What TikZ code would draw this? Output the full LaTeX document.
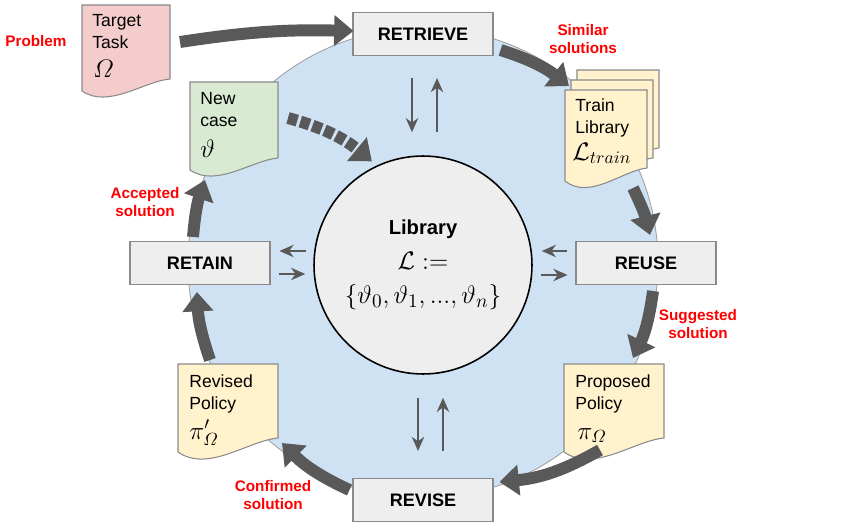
\documentclass[tikz,border=0pt]{standalone}
\usepackage{amsmath,amssymb}
\usepackage{fontspec}
\setmainfont{Liberation Sans}
\usetikzlibrary{arrows.meta,calc}

\definecolor{cyclefill}{HTML}{CFE2F3}
\definecolor{libfill}{HTML}{EEEEEE}
\definecolor{boxfill}{HTML}{EEEEEE}
\definecolor{boxline}{HTML}{8A8A8A}
\definecolor{arrowgray}{HTML}{595959}
\definecolor{taskpink}{HTML}{F4CCCC}
\definecolor{casegreen}{HTML}{D9EAD3}
\definecolor{policyyellow}{HTML}{FFF2CC}
\definecolor{labelred}{HTML}{FF0000}

% page with a wavy bottom, drawn over an empty node
\newcommand{\docpage}[3]{%
  \draw[docline, fill=#2] (#1.north west) -- (#1.north east) -- (#1.south east)
    .. controls ($(#1.south west)!0.7!(#1.south east)+(0,-0.2*#3)$)
    and ($(#1.south west)!0.3!(#1.south east)+(0,-2.5*#3)$)
    .. ($(#1.south west)+(0,-#3)$) -- cycle;}

\begin{document}
\begin{tikzpicture}[x=0.02cm, y=0.02cm,
    stepbox/.style={draw=boxline, fill=boxfill, line width=0.6pt,
      minimum width=2.8cm, minimum height=0.86cm,
      font=\fontsize{10.3}{12}\selectfont\bfseries},
    docbox/.style={anchor=north west, inner sep=0pt, outer sep=0pt},
    docline/.style={draw=boxline, line width=0.6pt},
    doctext/.style={anchor=north west, inner sep=0pt, align=left,
      font=\fontsize{10}{12.5}\selectfont},
    docmath/.style={anchor=base west, inner sep=0pt,
      font=\fontsize{14}{14}\selectfont},
    redlabel/.style={text=labelred, align=center,
      font=\fontsize{8.7}{10.2}\selectfont\bfseries},
    cyclearrow/.style={draw=arrowgray, line width=6.8pt,
      -{Triangle[length=11pt,width=17pt]}},
    linkarrow/.style={draw=arrowgray, line width=1.5pt,
      -{Stealth[length=8pt,width=7pt,inset=2.5pt]}}]
  \useasboundingbox (0,0) rectangle (859,525);

  % cycle
  \coordinate (hub) at (423,262);
  \draw[draw=boxline!80, line width=0.5pt, fill=cyclefill] (hub) circle (235);

  % pages
  \node[docbox, minimum width=88*0.02cm, minimum height=74*0.02cm] (task) at (82,520) {};
  \docpage{task}{taskpink}{12}
  \node[docbox, minimum width=88*0.02cm, minimum height=76*0.02cm] (newcase) at (190,443) {};
  \docpage{newcase}{casegreen}{12}
  \node[docbox, minimum width=82*0.02cm, minimum height=78*0.02cm] (trainback) at (577,455) {};
  \docpage{trainback}{policyyellow}{13}
  \node[docbox, minimum width=82*0.02cm, minimum height=78*0.02cm] (trainmid) at (571,445) {};
  \docpage{trainmid}{policyyellow}{13}
  \node[docbox, minimum width=82*0.02cm, minimum height=78*0.02cm] (trainlib) at (565,435) {};
  \docpage{trainlib}{policyyellow}{13}
  \node[docbox, minimum width=100*0.02cm, minimum height=74*0.02cm] (proposed) at (564,161) {};
  \docpage{proposed}{policyyellow}{14}
  \node[docbox, minimum width=100*0.02cm, minimum height=74*0.02cm] (revised) at (178,161) {};
  \docpage{revised}{policyyellow}{14}

  \node[doctext] (tasktext) at ($(task.north west)+(10,-9)$) {Target\\Task};
  \node[docmath] (taskmath) at ($(task.north west)+(11,-73)$) {$\varOmega$};
  \node[doctext] (casetext) at ($(newcase.north west)+(10,-10)$) {New\\case};
  \node[docmath] (casemath) at ($(newcase.north west)+(10,-75)$) {$\vartheta$};
  \node[doctext] (traintext) at ($(trainlib.north west)+(10,-8)$) {Train\\Library};
  \node[docmath] (trainmath) at ($(trainlib.north west)+(7,-70)$) {$\mathcal{L}_{train}$};
  \node[doctext] (proptext) at ($(proposed.north west)+(11,-10)$) {Proposed\\Policy};
  \node[docmath] (propmath) at ($(proposed.north west)+(13,-75)$) {$\pi_{\varOmega}$};
  \node[doctext] (revtext) at ($(revised.north west)+(11,-10)$) {Revised\\Policy};
  \node[docmath] (revmath) at ($(revised.north west)+(11,-75)$) {$\pi'_{\varOmega}$};

  % steps
  \node[stepbox] (retrieve) at (423,491) {RETRIEVE};
  \node[stepbox] (reuse) at (646,262) {REUSE};
  \node[stepbox] (revise) at (423,25) {REVISE};
  \node[stepbox] (retain) at (200,262) {RETAIN};

  % library
  \node[circle, draw=black, line width=0.9pt, fill=libfill, minimum size=4.36cm,
    inner sep=0pt, align=center, font=\fontsize{14}{19.8}\selectfont]
    (library) at (423,260)
    {{\fontsize{11.5}{12}\selectfont\bfseries Library}\\ $\mathcal{L}:=$\\
     {\fontsize{15.5}{16}\selectfont$\{\vartheta_0,\vartheta_1,...,\vartheta_n\}$}};

  % cycle arrows
  \draw[cyclearrow] ($(task.east)+(10,0)$) to[bend left=5] ($(retrieve.west)+(1,3)$);
  \draw[cyclearrow] ($(retrieve.east)+(7,-16)$) to[bend left=10] ($(trainlib.north west)+(4,4)$);
  \draw[cyclearrow] ($(trainlib.south east)+(-14,-20)$) to[bend left=6] ($(reuse.north)+(4,6)$);
  \draw[cyclearrow] ($(reuse.south)+(7,-6)$) to[bend left=9] ($(proposed.north)+(19,6)$);
  \draw[cyclearrow] ($(proposed.south)+(-14,-12)$) to[bend left=12] ($(revise.east)+(6,18)$);
  \draw[cyclearrow] ($(revise.west)+(-3,10)$) to[bend left=10] ($(revised.south east)+(4,-5)$);
  \draw[cyclearrow] ($(revised.north west)+(32,4)$) to[bend left=8] ($(retain.south)+(-3,-7)$);
  \draw[cyclearrow] ($(retain.north)+(-7,4)$) to[bend left=7] ($(newcase.south west)+(15,-22)$);
  \draw[cyclearrow, dash pattern=on 5.5pt off 1.8pt] ($(newcase.east)+(10,2)$)
    to[bend left=12] ($(library.116)+(-3,5)$);

  % exchange with the library
  \draw[linkarrow] ($(retrieve.south)+(-11,-22)$) -- ($(library.north)+(-11,23)$);
  \draw[linkarrow] ($(library.north)+(14,23)$) -- ($(retrieve.south)+(14,-22)$);
  \draw[linkarrow] ($(library.south)+(-5,-23)$) -- ($(revise.north)+(-5,27)$);
  \draw[linkarrow] ($(revise.north)+(20,27)$) -- ($(library.south)+(20,-23)$);
  \draw[linkarrow] ($(library.west)+(-7,14)$) -- ($(retain.east)+(9,12)$);
  \draw[linkarrow] ($(retain.east)+(8,-11)$) -- ($(library.west)+(-8,-9)$);
  \draw[linkarrow] ($(reuse.west)+(-8,12)$) -- ($(library.east)+(9,14)$);
  \draw[linkarrow] ($(library.east)+(8,-10)$) -- ($(reuse.west)+(-8,-12)$);

  % labels
  \node[redlabel] (problem) at (36,484) {Problem};
  \node[redlabel] (similar) at (583,486) {Similar\\solutions};
  \node[redlabel] (suggested) at (698,201) {Suggested\\solution};
  \node[redlabel] (confirmed) at (273,30) {Confirmed\\solution};
  \node[redlabel] (accepted) at (145,323) {Accepted\\solution};
\end{tikzpicture}
\end{document}
